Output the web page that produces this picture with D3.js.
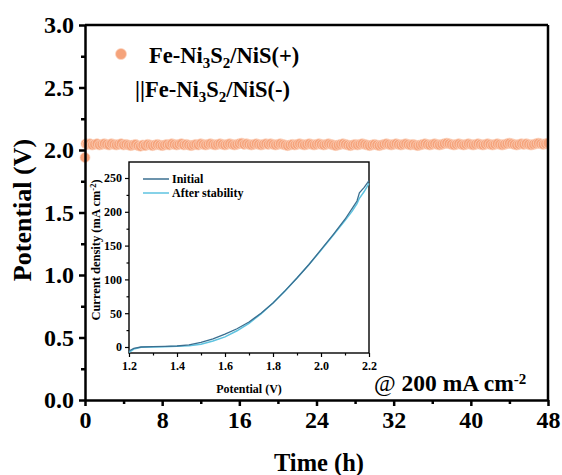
<!DOCTYPE html>
<html><head><meta charset="utf-8">
<script src="https://cdn.jsdelivr.net/npm/d3@7"></script>
<style>
body{margin:0;background:#fff;}
svg{display:block;font-family:"Liberation Serif","Times New Roman",serif;font-weight:bold;}
</style></head>
<body><svg id="c" width="562" height="475"></svg>
<script>
// ---------- data ----------
const times = [0,0.1,
0.25,0.5,0.75,1, 1.25,1.5,1.75,2, 2.25,2.5,2.75,3, 3.25,3.5,3.75,4, 4.25,4.5,4.75,5, 5.25,5.5,5.75,6,
6.25,6.5,6.75,7, 7.25,7.5,7.75,8, 8.25,8.5,8.75,9, 9.25,9.5,9.75,10, 10.25,10.5,10.75,11, 11.25,11.5,11.75,12,
12.25,12.5,12.75,13, 13.25,13.5,13.75,14, 14.25,14.5,14.75,15, 15.25,15.5,15.75,16, 16.25,16.5,16.75,17, 17.25,17.5,17.75,18,
18.25,18.5,18.75,19, 19.25,19.5,19.75,20, 20.25,20.5,20.75,21, 21.25,21.5,21.75,22, 22.25,22.5,22.75,23, 23.25,23.5,23.75,24,
24.25,24.5,24.75,25, 25.25,25.5,25.75,26, 26.25,26.5,26.75,27, 27.25,27.5,27.75,28, 28.25,28.5,28.75,29, 29.25,29.5,29.75,30,
30.25,30.5,30.75,31, 31.25,31.5,31.75,32, 32.25,32.5,32.75,33, 33.25,33.5,33.75,34, 34.25,34.5,34.75,35, 35.25,35.5,35.75,36,
36.25,36.5,36.75,37, 37.25,37.5,37.75,38, 38.25,38.5,38.75,39, 39.25,39.5,39.75,40, 40.25,40.5,40.75,41, 41.25,41.5,41.75,42,
42.25,42.5,42.75,43, 43.25,43.5,43.75,44, 44.25,44.5,44.75,45, 45.25,45.5,45.75,46, 46.25,46.5,46.75,47, 47.25,47.5,47.75,48];
const potentials = [
1.94,2.05,2.045,2.05,2.04,2.045,2.05,2.04,2.045,2.05,
2.045,2.04,2.05,2.045,2.04,2.045,2.05,2.04,2.045,2.04,
2.035,2.04,2.045,2.035,2.03,2.04,2.035,2.045,2.04,2.035,
2.04,2.045,2.04,2.035,2.04,2.045,2.04,2.05,2.045,2.04,
2.045,2.05,2.04,2.045,2.04,2.035,2.04,2.045,2.04,2.05,
2.045,2.04,2.045,2.05,2.045,2.04,2.045,2.05,2.045,2.04,
2.045,2.05,2.045,2.04,2.045,2.05,2.055,2.045,2.05,2.045,
2.04,2.045,2.05,2.045,2.04,2.045,2.05,2.045,2.05,2.045,
2.04,2.045,2.05,2.045,2.04,2.035,2.04,2.045,2.04,2.045,
2.05,2.045,2.04,2.045,2.05,2.045,2.04,2.045,2.05,2.045,
2.04,2.045,2.05,2.045,2.04,2.035,2.04,2.045,2.05,2.045,
2.04,2.035,2.04,2.045,2.04,2.045,2.05,2.045,2.04,2.035,
2.04,2.045,2.04,2.035,2.04,2.045,2.05,2.045,2.04,2.045,
2.05,2.045,2.04,2.045,2.05,2.045,2.04,2.045,2.04,2.035,
2.04,2.045,2.05,2.045,2.04,2.045,2.05,2.045,2.04,2.045,
2.05,2.055,2.05,2.045,2.04,2.045,2.05,2.045,2.04,2.045,
2.05,2.045,2.04,2.045,2.05,2.045,2.04,2.045,2.05,2.045,
2.04,2.045,2.05,2.045,2.04,2.045,2.05,2.055,2.05,2.045,
2.04,2.045,2.05,2.045,2.05,2.045,2.04,2.045,2.05,2.055,
2.05,2.045,2.05,2.055];
const xTicks = [0,8,16,24,32,40,48];
const yTicks = [0.0,0.5,1.0,1.5,2.0,2.5,3.0];

const lsvV =       [1.20,1.22,1.25,1.30,1.35,1.40,1.45,1.50,1.55,1.60,1.65,1.70,1.75,1.80,1.85,1.90,1.95,2.00,2.05,2.10,2.13,2.15,2.16,2.18,2.20];
const lsvInitial = [-6,-2,0,0.5,1,1.5,3,7,12,19,27,37,50,65,83,102,122,144,166,189,205,216,228,236,246];
const lsvAfter =   [-8,-3,-0.5,0,0.5,1,2,4,9,15,24,35,49,65,83,102,122,143,165,187,201,212,220,230,242];
const insetXTicks = [1.2,1.4,1.6,1.8,2.0,2.2];
const insetYTicks = [0,50,100,150,200,250];

// ---------- main ----------
const svg = d3.select("#c");
const x = d3.scaleLinear().domain([0,48]).range([85,548]);
const y = d3.scaleLinear().domain([0,3]).range([400,25]);
const ORANGE = "#F5A37B";
const RIM = "#FCD6C2";

svg.append("defs").append("clipPath").attr("id","plotclip").append("rect")
  .attr("x",x(0)-6).attr("y",y(3)).attr("width",x(48)-x(0)+6).attr("height",y(0)-y(3));

// points
svg.append("g").attr("clip-path","url(#plotclip)").selectAll("circle").data(times).join("circle")
  .attr("cx",(d)=>x(d)).attr("cy",(d,i)=>y(potentials[i])).attr("r",5)
  .attr("fill",ORANGE).attr("stroke",RIM).attr("stroke-width",0.7);

// frame top/right
svg.append("line").attr("x1",x(0)).attr("x2",x(48)).attr("y1",y(3)).attr("y2",y(3)).attr("stroke","#000").attr("stroke-width",2.5);
svg.append("line").attr("x1",x(48)).attr("x2",x(48)).attr("y1",y(3)).attr("y2",y(0)).attr("stroke","#000").attr("stroke-width",2.5);

function styleAxis(g, fs, sw){
  g.select(".domain").attr("stroke","#000").attr("stroke-width",sw);
  g.selectAll(".tick line").attr("stroke","#000").attr("stroke-width",sw);
  g.selectAll(".tick text").attr("fill","#000").attr("font-size",fs).attr("font-family",'"Liberation Serif","Times New Roman",serif').attr("font-weight","bold");
}
// minor ticks main
const gxm = svg.append("g").attr("transform","translate(0,400)")
  .call(d3.axisBottom(x).tickValues([4,12,20,28,36,44]).tickSize(4).tickFormat(""));
styleAxis(gxm,24,2.5); gxm.select(".domain").remove();
const gym = svg.append("g").attr("transform","translate(85,0)")
  .call(d3.axisLeft(y).tickValues([0.25,0.75,1.25,1.75,2.25,2.75]).tickSize(4).tickFormat(""));
styleAxis(gym,24,2.5); gym.select(".domain").remove();

const gx = svg.append("g").attr("transform","translate(0,400)")
  .call(d3.axisBottom(x).tickValues(xTicks).tickSize(6).tickSizeOuter(0).tickPadding(5).tickFormat(d3.format("d")));
styleAxis(gx,24,2.5);
const gy = svg.append("g").attr("transform","translate(85,0)")
  .call(d3.axisLeft(y).tickValues(yTicks).tickSize(6).tickSizeOuter(0).tickPadding(5).tickFormat(d3.format(".1f")));
styleAxis(gy,24,2.5);

svg.append("text").attr("x",319).attr("y",471).attr("text-anchor","middle").attr("font-size",24.5).text("Time (h)");
svg.append("text").attr("transform","translate(31,210) rotate(-90)").attr("text-anchor","middle").attr("font-size",26).text("Potential (V)");

// legend
svg.append("circle").attr("cx",121).attr("cy",54).attr("r",5.5).attr("fill",ORANGE).attr("stroke",RIM).attr("stroke-width",0.7);
function formula(xx, yy, prefix, suffix){
  const tx = svg.append("text").attr("x",xx).attr("y",yy).attr("font-size",22.5);
  tx.append("tspan").text(prefix+"Fe-Ni");
  tx.append("tspan").attr("baseline-shift","-30%").attr("font-size",15).text("3");
  tx.append("tspan").text("S");
  tx.append("tspan").attr("baseline-shift","-30%").attr("font-size",15).text("2");
  tx.append("tspan").text("/NiS("+suffix+")");
}
formula(149,63,"","+");
formula(135,97,"||","-");

// annotation
const an = svg.append("text").attr("x",374).attr("y",391).attr("font-size",23.5);
an.append("tspan").attr("font-weight","normal").text("@");
an.append("tspan").text(" 200 mA cm");
an.append("tspan").attr("baseline-shift","45%").attr("font-size",15).text("-2");

// ---------- inset ----------
const ix = d3.scaleLinear().domain([1.2,2.2]).range([129,369]);
const iy = d3.scaleLinear().domain([0,250]).range([347,178]);
const iTop = 162, iBot = 353;
const ig = svg.append("g");
ig.append("rect").attr("x",129).attr("y",iTop).attr("width",240).attr("height",iBot-iTop).attr("fill","#fff").attr("stroke","#000").attr("stroke-width",1.4);

const line = d3.line().x((d)=>ix(d[0])).y((d)=>iy(d[1]));
ig.append("path").datum(lsvV.map((v,i)=>[v,lsvAfter[i]])).attr("d",line).attr("fill","none").attr("stroke","#5EC3E0").attr("stroke-width",1.5);
ig.append("path").datum(lsvV.map((v,i)=>[v,lsvInitial[i]])).attr("d",line).attr("fill","none").attr("stroke","#3B6F90").attr("stroke-width",1.3);

const ixm = ig.append("g").attr("transform",`translate(0,${iBot})`).call(d3.axisBottom(ix).tickValues([1.3,1.5,1.7,1.9,2.1]).tickSize(2.5).tickFormat(""));
styleAxis(ixm,12,1.2); ixm.select(".domain").remove();
const iym = ig.append("g").attr("transform","translate(129,0)").call(d3.axisLeft(iy).tickValues([25,75,125,175,225]).tickSize(2.5).tickFormat(""));
styleAxis(iym,12,1.2); iym.select(".domain").remove();
const igx = ig.append("g").attr("transform",`translate(0,${iBot})`).call(d3.axisBottom(ix).tickValues(insetXTicks).tickSize(4).tickSizeOuter(0).tickPadding(4).tickFormat(d3.format(".1f")));
styleAxis(igx,12,1.2); igx.select(".domain").remove();
const igy = ig.append("g").attr("transform","translate(129,0)").call(d3.axisLeft(iy).tickValues(insetYTicks).tickSize(4).tickSizeOuter(0).tickPadding(3).tickFormat(d3.format("d")));
styleAxis(igy,12,1.2); igy.select(".domain").remove();

ig.append("text").attr("x",249).attr("y",393).attr("text-anchor","middle").attr("font-size",12).text("Potential (V)");
const iyl = ig.append("text").attr("transform","translate(100,250) rotate(-90)").attr("text-anchor","middle").attr("font-size",12.5);
iyl.append("tspan").text("Current density (mA cm");
iyl.append("tspan").attr("baseline-shift","45%").attr("font-size",8.5).text("-2");
iyl.append("tspan").text(")");

// inset legend
const lg = [["Initial","#3B6F90",179],["After stability","#5EC3E0",193]];
lg.forEach(([name,col,yy])=>{
  ig.append("line").attr("x1",143).attr("x2",169).attr("y1",yy).attr("y2",yy).attr("stroke",col).attr("stroke-width",1.5);
  ig.append("text").attr("x",172).attr("y",yy+4).attr("font-size",12).text(name);
});
</script></body></html>
